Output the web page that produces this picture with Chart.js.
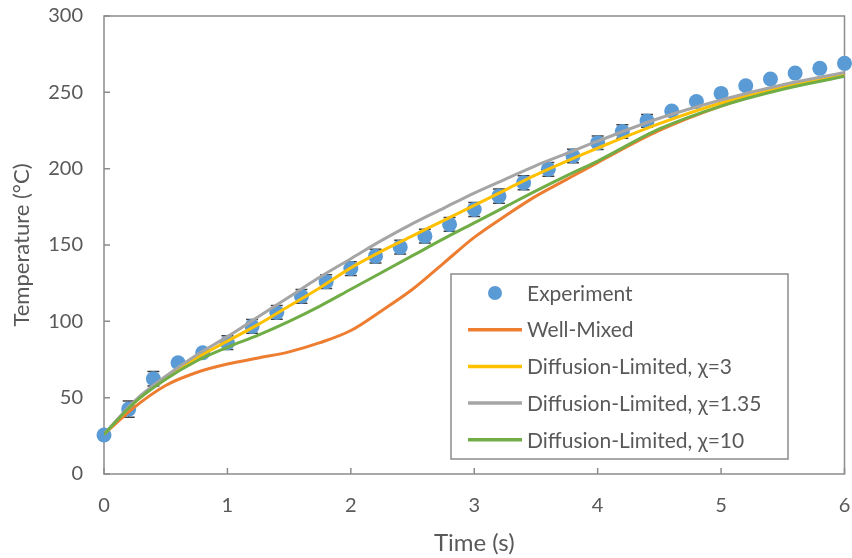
<!DOCTYPE html>
<html>
<head>
<meta charset="utf-8">
<script src="https://cdn.jsdelivr.net/npm/chart.js@4/dist/chart.umd.min.js"></script>
<style>
  html, body { margin: 0; padding: 0; background: #ffffff; }
  #wrap { width: 852px; height: 558px; }
</style>
</head>
<body>
<div id="wrap"><canvas id="chart" width="852" height="558"></canvas></div>
<script>
const expTime = [0, 0.2, 0.4, 0.6, 0.8, 1, 1.2, 1.4, 1.6, 1.8, 2, 2.2, 2.4, 2.6, 2.8, 3,
  3.2, 3.4, 3.6, 3.8, 4, 4.2, 4.4, 4.6, 4.8, 5, 5.2, 5.4, 5.6, 5.8, 6];
const expTemp = [25.5, 42.5, 62.4, 72.9, 79.4, 86, 96.7, 105.8, 116.4, 126, 134.6, 142.7, 148.6, 155.8, 163.5, 173.3,
  182, 190.8, 199.6, 208.3, 217, 224.3, 231.3, 237.8, 244, 249.3, 254.3, 258.7, 262.6, 265.7, 269];
const expErr = [2, 5.3, 4.7, 2, 2, 4.5, 4.5, 4.5, 4.5, 4.5, 4.5, 4.5, 4.5, 4.5, 4.5, 4.6,
  4.6, 4.6, 4.5, 4.5, 4.4, 4.4, 4.2, 2, 2, 2, 2, 2, 2, 2, 2];

// model curves
const modelTime = [0, 0.25, 0.5, 0.75, 1, 1.25, 1.5, 1.75, 2, 2.25, 2.5, 2.75, 3, 3.25, 3.5, 3.75, 4, 4.5, 5, 5.5, 6];
const wellMixed = [26, 44, 58, 66.5, 72, 76, 80, 86, 94, 107, 121, 138, 155, 169, 182, 193, 204, 225, 241, 253, 262];
const diffChi3 = [26, 47, 63, 76, 87, 98, 110, 122, 135, 146, 156, 166, 176, 186, 196, 205, 213.5, 229.5, 243, 253.5, 261.5];
const diffChi135 = [26, 48, 64, 78, 90, 103, 116, 129, 141, 153, 164, 174, 184, 193, 202, 210, 218, 233, 245, 255, 263];
const diffChi10 = [26, 47, 62, 74, 83, 91, 100, 110, 121, 132, 143, 154, 164.5, 175, 185.5, 195.5, 205, 226, 241, 252, 260.5];

const yTicks = [0, 50, 100, 150, 200, 250, 300];
const xTicks = [0, 1, 2, 3, 4, 5, 6];

const textColor = "#595959";
const axisColor = "#8c8c8c";
const fontFamily = "Lato, 'Open Sans', sans-serif";

function pts(xs, ys) {
  return xs.map((x, i) => ({ x: x, y: ys[i] }));
}

function lineSet(label, ys, color, order) {
  return {
    label: label,
    data: pts(modelTime, ys),
    showLine: true,
    borderColor: color,
    backgroundColor: color,
    borderWidth: 3,
    pointRadius: 0,
    cubicInterpolationMode: "monotone",
    order: order,
  };
}

function noPad(s) {
  s.paddingTop = 0; s.paddingBottom = 0; s.paddingLeft = 0; s.paddingRight = 0;
}

// error bars on the experiment series, drawn just under its markers
const errorBars = {
  id: "errorBars",
  beforeDatasetDraw(chart, args) {
    if (args.index !== 0) return;
    const { ctx, scales } = chart;
    ctx.save();
    ctx.strokeStyle = "#404040";
    ctx.lineWidth = 1.5;
    expTime.forEach((t, i) => {
      const x = scales.x.getPixelForValue(t);
      const yTop = scales.y.getPixelForValue(expTemp[i] + expErr[i]);
      const yBot = scales.y.getPixelForValue(expTemp[i] - expErr[i]);
      ctx.beginPath();
      ctx.moveTo(x, yTop); ctx.lineTo(x, yBot);
      ctx.moveTo(x - 6, yTop); ctx.lineTo(x + 6, yTop);
      ctx.moveTo(x - 6, yBot); ctx.lineTo(x + 6, yBot);
      ctx.stroke();
    });
    ctx.restore();
  },
};

// plot frame with inside tick marks
const frame = {
  id: "frame",
  beforeDatasetsDraw(chart) {
    const { ctx, chartArea: a, scales } = chart;
    ctx.save();
    ctx.strokeStyle = axisColor;
    ctx.lineWidth = 1.5;
    ctx.strokeRect(a.left, a.top, a.right - a.left, a.bottom - a.top);
    ctx.beginPath();
    yTicks.forEach((v) => {
      const y = scales.y.getPixelForValue(v);
      ctx.moveTo(a.left, y); ctx.lineTo(a.left + 6, y);
    });
    xTicks.forEach((v) => {
      const x = scales.x.getPixelForValue(v);
      ctx.moveTo(x, a.bottom); ctx.lineTo(x, a.bottom - 6);
    });
    ctx.stroke();
    ctx.restore();
  },
};

// legend box inside the plot, lower right
const boxLegend = {
  id: "boxLegend",
  afterDraw(chart) {
    const ctx = chart.ctx;
    const left = 451, top = 274, right = 788, bottom = 459;
    ctx.save();
    ctx.fillStyle = "#ffffff";
    ctx.fillRect(left, top, right - left, bottom - top);
    ctx.strokeStyle = axisColor;
    ctx.lineWidth = 1.5;
    ctx.strokeRect(left, top, right - left, bottom - top);
    ctx.font = "21px " + fontFamily;
    ctx.textBaseline = "middle";
    chart.data.datasets.forEach((ds, i) => {
      const y = 293 + i * 36.7;
      if (ds.showLine) {
        ctx.strokeStyle = ds.borderColor;
        ctx.lineWidth = 3.5;
        ctx.beginPath();
        ctx.moveTo(468, y); ctx.lineTo(522, y);
        ctx.stroke();
      } else {
        ctx.fillStyle = ds.backgroundColor;
        ctx.beginPath();
        ctx.arc(495, y, 7, 0, Math.PI * 2);
        ctx.fill();
      }
      ctx.fillStyle = textColor;
      ctx.fillText(ds.label, 527, y + 1);
    });
    ctx.restore();
  },
};

new Chart(document.getElementById("chart").getContext("2d"), {
  type: "scatter",
  data: {
    datasets: [
      {
        label: "Experiment",
        data: pts(expTime, expTemp),
        backgroundColor: "#5b9bd5",
        borderColor: "#5b9bd5",
        pointRadius: 7.5,
        pointBorderWidth: 0,
        clip: false,
        order: 5,
      },
      lineSet("Well-Mixed", wellMixed, "#ed7d31", 4),
      lineSet("Diffusion-Limited, χ=3", diffChi3, "#ffc000", 3),
      lineSet("Diffusion-Limited, χ=1.35", diffChi135, "#a5a5a5", 2),
      lineSet("Diffusion-Limited, χ=10", diffChi10, "#70ad47", 1),
    ],
  },
  options: {
    responsive: false,
    animation: false,
    devicePixelRatio: 1,
    layout: { padding: { top: 16, right: 7, left: 0, bottom: 0 } },
    plugins: {
      legend: { display: false },
      tooltip: { enabled: false },
    },
    scales: {
      x: {
        type: "linear",
        min: 0,
        max: 6,
        afterFit: (s) => { s.height = 84; noPad(s); },
        afterBuildTicks: (s) => { s.ticks = xTicks.map((v) => ({ value: v })); },
        grid: { display: false, drawTicks: false },
        border: { display: false },
        ticks: { color: textColor, font: { family: fontFamily, size: 20 }, padding: 20 },
        title: {
          display: true,
          text: "Time (s)",
          color: textColor,
          font: { family: fontFamily, size: 24 },
          padding: { top: 0, bottom: 0 },
        },
      },
      y: {
        type: "linear",
        min: 0,
        max: 300,
        afterFit: (s) => { s.width = 104; noPad(s); },
        afterBuildTicks: (s) => { s.ticks = yTicks.map((v) => ({ value: v })); },
        grid: { display: false, drawTicks: false },
        border: { display: false },
        ticks: { color: textColor, font: { family: fontFamily, size: 20 }, padding: 21 },
        title: {
          display: true,
          text: "Temperature (°C)",
          color: textColor,
          font: { family: fontFamily, size: 22 },
          padding: { top: 9, bottom: 0 },
        },
      },
    },
  },
  plugins: [frame, errorBars, boxLegend],
});
</script>
</body>
</html>
